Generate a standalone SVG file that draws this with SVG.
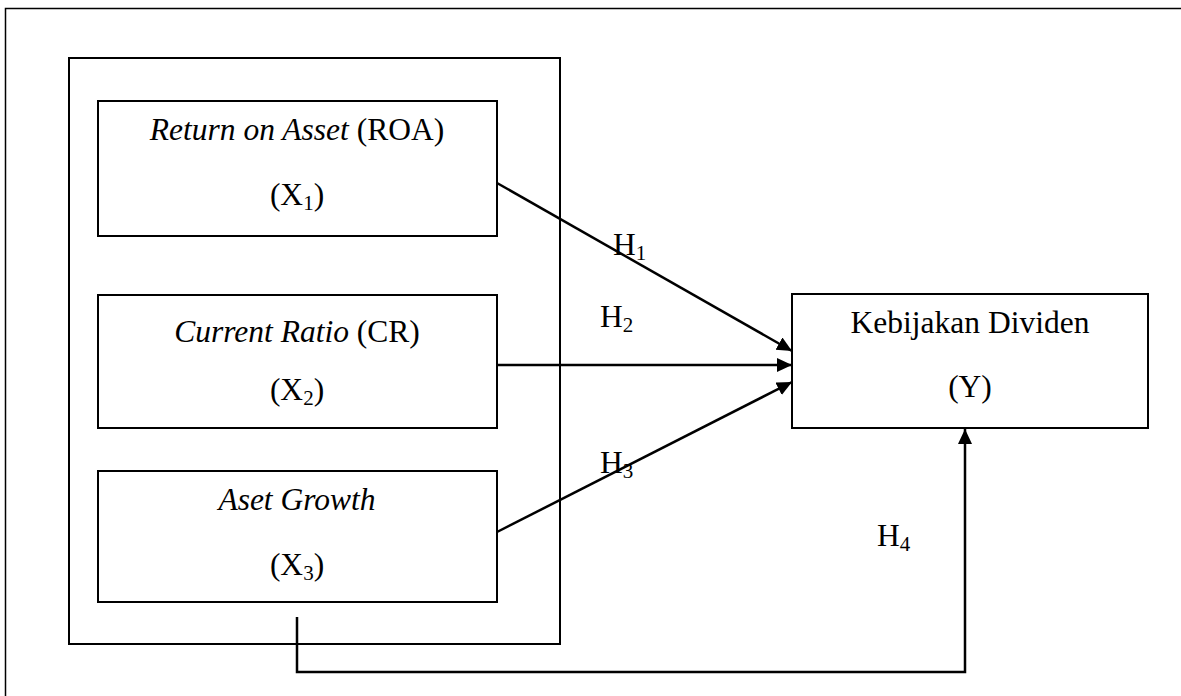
<svg xmlns="http://www.w3.org/2000/svg" width="1181" height="696" viewBox="0 0 1181 696">
<defs>
<style>
.frame{fill:none;stroke:#000;stroke-width:1.5}
.box{fill:#fff;stroke:#000;stroke-width:2}
.t{font-family:"Liberation Serif","Times New Roman",serif;font-size:31.5px;fill:#000;text-anchor:middle}
.h{font-family:"Liberation Serif","Times New Roman",serif;font-size:31.5px;fill:#000}
.sub{font-size:21px}
.i{font-style:italic}
.c{fill:none;stroke:#000;stroke-width:2.5}
</style>
<marker id="ah" markerUnits="userSpaceOnUse" markerWidth="16" markerHeight="15" refX="15" refY="7" orient="auto">
<path d="M0,0 L15,7 L0,14 z" fill="#000"/>
</marker>
</defs>
<rect width="1181" height="696" fill="#fff"/>
<rect class="frame" x="5.5" y="8.5" width="1200" height="720"/>
<g id="container">
<rect class="box" x="69" y="58" width="491" height="586" fill="none"/>
</g>
<g id="connectors">
<line class="c" x1="497" y1="183" x2="792" y2="351" marker-end="url(#ah)"/>
<line class="c" x1="497" y1="365" x2="792" y2="365" marker-end="url(#ah)"/>
<line class="c" x1="497" y1="532" x2="792" y2="382" marker-end="url(#ah)"/>
<polyline class="c" points="297,617 297,672 965,672 965,429" marker-end="url(#ah)"/>
<text class="h" x="613" y="255">H<tspan class="sub" dy="5">1</tspan></text>
<text class="h" x="600" y="327">H<tspan class="sub" dy="5">2</tspan></text>
<text class="h" x="600" y="473">H<tspan class="sub" dy="5">3</tspan></text>
<text class="h" x="877" y="546">H<tspan class="sub" dy="5">4</tspan></text>
</g>
<g id="x1">
<rect class="box" x="98" y="101" width="399" height="135"/>
<text class="t" x="297" y="140"><tspan class="i">Return on Asset</tspan> (ROA)</text>
<text class="t" x="297" y="205">(X<tspan class="sub" dy="5">1</tspan><tspan dy="-5">)</tspan></text>
</g>
<g id="x2">
<rect class="box" x="98" y="295" width="399" height="133"/>
<text class="t" x="297" y="342"><tspan class="i">Current Ratio</tspan> (CR)</text>
<text class="t" x="297" y="400">(X<tspan class="sub" dy="5">2</tspan><tspan dy="-5">)</tspan></text>
</g>
<g id="x3">
<rect class="box" x="98" y="471" width="399" height="131"/>
<text class="t i" x="297" y="510">Aset Growth</text>
<text class="t" x="297" y="575">(X<tspan class="sub" dy="5">3</tspan><tspan dy="-5">)</tspan></text>
</g>
<g id="y">
<rect class="box" x="792" y="294" width="356" height="134"/>
<text class="t" x="970" y="333">Kebijakan Dividen</text>
<text class="t" x="970" y="397">(Y)</text>
</g>
</svg>
